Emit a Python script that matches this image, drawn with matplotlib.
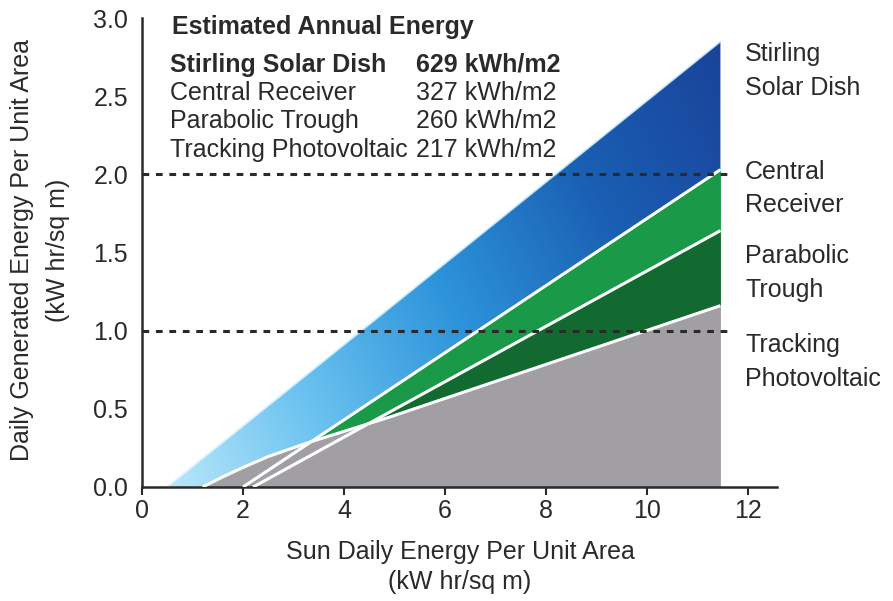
import matplotlib.pyplot as plt
from matplotlib.colors import LinearSegmentedColormap
from matplotlib.patches import Polygon
import numpy as np

plt.rcParams["font.family"] = ["Liberation Sans", "DejaVu Sans"]

# Daily output lines (sun energy -> generated energy), kW hr/sq m
stirling_x = [0.5, 11.45]
stirling_y = [0.0, 2.85]
central_x = [2.0, 11.45]
central_y = [0.0, 2.03]
trough_x = [2.2, 11.45]
trough_y = [0.0, 1.64]
pv_x = [1.2, 1.6, 2.0, 2.5, 3.3, 4.9, 11.45]
pv_y = [0.0, 0.065, 0.125, 0.195, 0.285, 0.447, 1.16]

# Estimated annual energy table
tech_names = ["Stirling Solar Dish", "Central Receiver", "Parabolic Trough", "Tracking Photovoltaic"]
annual_kwh = [629, 327, 260, 217]
side_labels = ["Stirling\nSolar Dish", "Central\nReceiver", "Parabolic\nTrough", "Tracking\nPhotovoltaic"]
side_label_y = [2.66, 1.91, 1.37, 0.80]
ref_levels = [1.0, 2.0]

fs = 18
ink = "#2a2a2a"
fig = plt.figure(figsize=(8.93, 6.01), dpi=100)
ax = fig.add_axes([142 / 893, 114 / 601, 635 / 893, 469 / 601])

xs = np.linspace(0, stirling_x[-1], 1200)
def curve(x, y):
    return np.interp(xs, x, y, left=0.0)
st = curve(stirling_x, stirling_y)
cr = curve(central_x, central_y)
tr = curve(trough_x, trough_y)
pv = curve(pv_x, pv_y)

# grey photovoltaic base
ax.fill_between(xs, 0, pv, color="#a19fa4", lw=0, zorder=1)
# parabolic trough band
lo = pv
ax.fill_between(xs, lo, np.maximum(tr, lo), color="#136a31", lw=0, zorder=2)
# central receiver band
lo = np.maximum(pv, tr)
ax.fill_between(xs, lo, np.maximum(cr, lo), color="#1a9a49", lw=0, zorder=2)

# stirling band with blue gradient
lo = np.maximum(pv, cr)
mask = st > lo
px = np.concatenate([xs[mask], xs[mask][::-1]])
py = np.concatenate([st[mask], lo[mask][::-1]])
clip = Polygon(np.column_stack([px, py]), closed=True, facecolor="none", edgecolor="none")
ax.add_patch(clip)
blues = LinearSegmentedColormap.from_list(
    "blues", ["#c4ecfb", "#6cc3f0", "#2d93da", "#1a5fb3", "#19439a"])
gx, gy = np.meshgrid(np.linspace(0, 11.45, 300), np.linspace(0, 3, 120))
grad = (gx + 1.6 * gy) / (11.45 + 1.6 * 2.85)
im = ax.imshow(grad, extent=[0, 11.45, 0, 3], origin="lower", cmap=blues,
               vmin=0, vmax=1, aspect="auto", zorder=1.5, interpolation="bilinear")
im.set_clip_path(clip)
# pale rim along the top edge
ax.plot(stirling_x, stirling_y, color="#d9f3fd", lw=1.4, alpha=0.8, zorder=2.5)

# white separating lines
for x, y in [(central_x, central_y), (trough_x, trough_y), (pv_x, pv_y)]:
    ax.plot(x, y, color="white", lw=2.2, zorder=3, solid_capstyle="butt")

# reference lines
for lvl in ref_levels:
    ax.plot([0, 11.6], [lvl, lvl], color=ink, lw=2.2, ls=(0, (2.2, 2.2)), zorder=4)

ax.set_xlim(0, 12.57)
ax.set_ylim(0, 3.0)
ax.set_xticks(range(0, 13, 2))
ax.set_yticks(np.arange(0, 3.01, 0.5))
ax.set_yticklabels([f"{v:.1f}" for v in np.arange(0, 3.01, 0.5)])
ax.tick_params(axis="x", length=6, width=1.5, direction="out", labelsize=fs, pad=3, colors=ink)
ax.tick_params(axis="y", length=0, labelsize=fs, pad=10, colors=ink)
for s in ["top", "right"]:
    ax.spines[s].set_visible(False)
for s in ["left", "bottom"]:
    ax.spines[s].set_linewidth(1.8)
    ax.spines[s].set_color(ink)
ax.patch.set_visible(False)

# axis titles
fig.text(460 / 893, 1 - 567 / 601, "Sun Daily Energy Per Unit Area\n(kW hr/sq m)", fontsize=fs,
         color=ink, ha="center", va="center", linespacing=1.35)
fig.text(40 / 893, 1 - 250 / 601, "Daily Generated Energy Per Unit Area\n(kW hr/sq m)", fontsize=fs,
         color=ink, ha="center", va="center", rotation=90, linespacing=1.65)

# annual energy table
ax.text(0.59, 2.94, "Estimated Annual Energy", fontsize=fs, fontweight="bold",
        color=ink, va="center")
for i, (name, val) in enumerate(zip(tech_names, annual_kwh)):
    y = 2.70 - i * 0.181
    w = "bold" if i == 0 else "normal"
    ax.text(0.55, y, name, fontsize=fs, fontweight=w, color=ink, va="center")
    ax.text(5.42, y, f"{val} kWh/m2", fontsize=fs, fontweight=w, color=ink, va="center")

for lab, y in zip(side_labels, side_label_y):
    ax.text(11.94, y, lab, fontsize=fs, color=ink, va="center",
            linespacing=1.5, clip_on=False)

fig.savefig("out.png", dpi=100)
